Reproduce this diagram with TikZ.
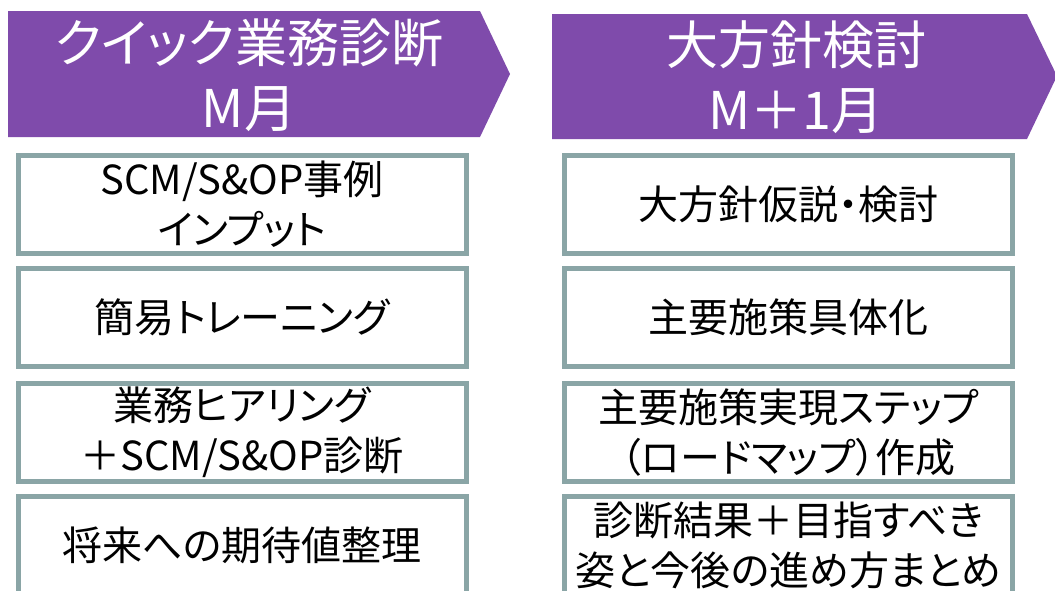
\documentclass[tikz,border=0pt]{standalone}
\usepackage{fontspec}
\setmainfont{Noto Sans CJK JP}[RawFeature=+palt]
\definecolor{phasecol}{HTML}{7F4BAB}
\definecolor{taskline}{HTML}{8AA5A6}

\begin{document}
\begin{tikzpicture}[x=1pt, y=-1pt,
    task/.style ={rectangle, draw=taskline, line width=5pt, fill=white,
      minimum width=448pt, minimum height=98pt, inner sep=0pt,
      align=center, font=\fontsize{40}{50}\selectfont},
    phasetext/.style ={text=white, align=center, inner sep=0pt,
      font=\fontsize{52}{65}\selectfont}]
   \useasboundingbox (0,0) rectangle (1055,590);
   \clip (0,0) rectangle (1055,590);

   % phase headers
   \fill[phasecol] (8,11) -- (480,11) -- (510,74) -- (480,137) -- (8,137) -- cycle;
   \fill[phasecol] (552,14) -- (1027,14) -- (1057,76) -- (1027,139) -- (552,139) -- cycle;
   \node[phasetext] (P1) at (249,75) {クイック業務診断\\M月};
   \node[phasetext] (P2) at (796,77) {大方針検討\\M＋1月};

   % left column
   \node[task] (A) at (242,204.5) {SCM/S\&OP事例\\インプット};
   \node[task] (B) at (242,317.5) {簡易トレーニング};
   \node[task] (C) at (242,432.5) {業務ヒアリング\\＋SCM/S\&OP診断};
   \node[task] (D) at (242,545.5) {将来への期待値整理};

   % right column
   \node[task] (E) at (788.5,204.5) {大方針仮説・検討};
   \node[task] (F) at (788.5,317.5) {主要施策具体化};
   \node[task] (G) at (788.5,432.5) {主要施策実現ステップ\\（ロードマップ）作成};
   \node[task] (H) at (788.5,545.5) {診断結果＋目指すべき\\姿と今後の進め方まとめ};

 \end{tikzpicture}
\end{document}
